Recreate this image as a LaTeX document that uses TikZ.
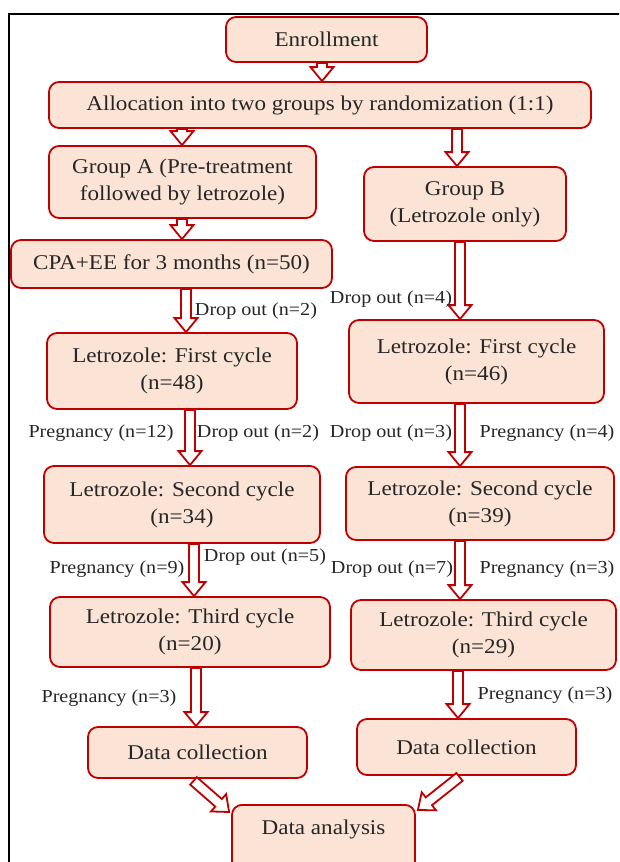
\documentclass[tikz,border=0pt]{standalone}
\usepackage{fontspec}
\setmainfont[FakeStretch=1.1]{Liberation Serif}
\usetikzlibrary{calc}
\definecolor{brd}{HTML}{C00000}
\definecolor{peach}{HTML}{FBE4D6}
\tikzset{
  box/.style={draw=brd, fill=peach, line width=1.8pt, rounded corners=10pt, inner sep=0pt,
    align=center, font=\fontsize{21}{27}\selectfont, text=black!85},
  lbl/.style={font=\fontsize{18.3}{22}\selectfont, text=black!85, inner sep=0pt},
  hollow/.style={draw=brd, line width=1.8pt, fill=white, line join=miter,
    to path={let \p1=(\tikztostart), \p2=(\tikztotarget), \n1={atan2(\y2-\y1,\x2-\x1)} in
      ($(\p1)+(\n1+90:5pt)$) -- ($(\p2)+(\n1+180:14pt)+(\n1+90:5pt)$)
      -- ($(\p2)+(\n1+180:14pt)+(\n1+90:11.5pt)$) -- (\p2)
      -- ($(\p2)+(\n1+180:14pt)+(\n1-90:11.5pt)$) -- ($(\p2)+(\n1+180:14pt)+(\n1-90:5pt)$)
      -- ($(\p1)+(\n1-90:5pt)$) -- cycle}}
}
\newcommand{\bx}[6]{% name, x1, y1, x2, y2, text
  \node[box, minimum width={#4-#2}, minimum height={#5-#3}] (#1) at ({(#2+#4)/2},{(#3+#5)/2}) {#6};}
\begin{document}
\begin{tikzpicture}[x=1pt,y=-1pt]
\useasboundingbox (0,0) rectangle (619,862);
\clip (0,0) rectangle (619,862);
\fill[white] (0,0) rectangle (619,862);
% frame
\draw[black, line width=1.8pt] (9,870) -- (9,14) -- (625,14);
% boxes
\bx{enr}{226}{17}{427}{62}{Enrollment}
\bx{alloc}{49}{82}{591}{128}{Allocation into two groups by randomization (1:1)}
\bx{ga}{49}{146}{316}{218}{Group A (Pre-treatment\\followed by letrozole)}
\bx{gb}{364}{167}{566}{241}{Group B\\(Letrozole only)}
\bx{cpa}{11}{240}{332}{288}{CPA+EE for 3 months (n=50)}
\bx{aone}{47}{333}{297}{409}{Letrozole: First cycle\\(n=48)}
\bx{bone}{349}{320}{604}{403}{Letrozole: First cycle\\(n=46)}
\bx{atwo}{44}{466}{320}{543}{Letrozole: Second cycle\\(n=34)}
\bx{btwo}{346}{467}{614}{540}{Letrozole: Second cycle\\(n=39)}
\bx{athree}{50}{597}{330}{667}{Letrozole: Third cycle\\(n=20)}
\bx{bthree}{351}{600}{616}{670}{Letrozole: Third cycle\\(n=29)}
\bx{dca}{88}{727}{307}{778}{Data collection}
\bx{dcb}{357}{719}{576}{775}{Data collection}
\node[box, anchor=north, minimum width=183pt, inner ysep=9pt, text height=21pt, text depth=60pt] (da) at (323.5,804) {Data analysis};
% arrows
\draw[hollow] (enr.south -| 322,0) to (alloc.north -| 322,0);
\draw[hollow] (alloc.south -| 182,0) to (ga.north -| 182,0);
\draw[hollow] (alloc.south -| 457,0) to (gb.north -| 457,0);
\draw[hollow] (ga.south -| 182,0) to (cpa.north -| 182,0);
\draw[hollow] (cpa.south -| 186,0) to (aone.north -| 186,0);
\draw[hollow] (gb.south -| 460,0) to (bone.north -| 460,0);
\draw[hollow] (aone.south -| 190,0) to (atwo.north -| 190,0);
\draw[hollow] (bone.south -| 460,0) to (btwo.north -| 460,0);
\draw[hollow] (atwo.south -| 194,0) to (athree.north -| 194,0);
\draw[hollow] (btwo.south -| 460,0) to (bthree.north -| 460,0);
\draw[hollow] (athree.south -| 196,0) to (dca.north -| 196,0);
\draw[hollow] (bthree.south -| 458,0) to (dcb.north -| 458,0);
\draw[hollow] ($(dca.south)+(-4,2)$) to ($(da.north west)+(-2,8)$);
\draw[hollow] ($(dcb.south)+(-7,1)$) to ($(da.north east)+(2,6)$);
% labels
\node[lbl] (l1) at (256,311) {Drop out (n=2)};
\node[lbl] (l2) at (391,299) {Drop out (n=4)};
\node[lbl] (l3) at (101,433) {Pregnancy (n=12)};
\node[lbl] (l4) at (258,433) {Drop out (n=2)};
\node[lbl] (l5) at (391,433) {Drop out (n=3)};
\node[lbl] (l6) at (547,433) {Pregnancy (n=4)};
\node[lbl] (l7) at (117,569) {Pregnancy (n=9)};
\node[lbl] (l8) at (265,557) {Drop out (n=5)};
\node[lbl] (l9) at (392,569) {Drop out (n=7)};
\node[lbl] (l10) at (547,569) {Pregnancy (n=3)};
\node[lbl] (l11) at (109,698) {Pregnancy (n=3)};
\node[lbl] (l12) at (545,695) {Pregnancy (n=3)};
\end{tikzpicture}
\end{document}
